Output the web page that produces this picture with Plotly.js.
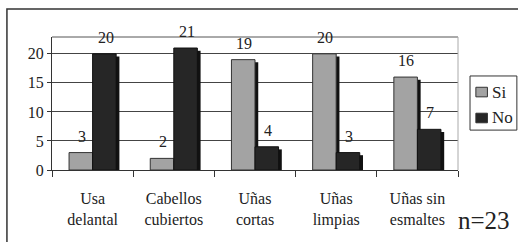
<!DOCTYPE html>
<html><head><meta charset="utf-8">
<script src="https://cdn.plot.ly/plotly-3.0.1.min.js"></script>
<style>body{margin:0;background:#fff}#c{width:518px;height:242px}</style>
</head><body><div id="c"></div>
<script>
var categories = ["Usa<br>delantal", "Cabellos<br>cubiertos", "Uñas<br>cortas", "Uñas<br>limpias", "Uñas sin<br>esmaltes"];
var si = [3, 2, 19, 20, 16];
var no = [20, 21, 4, 3, 7];
var seriesNames = ["Si", "No"];
var seriesColors = ["#a3a3a3", "#262626"];
var yTicks = [0, 5, 10, 15, 20];

var font = "Liberation Serif";
var W = 0.29, SH = 0.04, SD = 0.45;
function shadow(vals, off) {
  return {type: "bar", x: categories, y: vals.map(function(v){return v - SD;}), offset: off + SH, width: W,
    marker: {color: "#111", line: {width: 0}}, showlegend: false, hoverinfo: "skip"};
}
var traces = [
  shadow(si, -W), shadow(no, 0),
  {type: "bar", name: seriesNames[0], x: categories, y: si, offset: -W, width: W, showlegend: false,
   marker: {color: seriesColors[0], line: {color: "#333", width: 1}}},
  {type: "bar", name: seriesNames[1], x: categories, y: no, offset: 0, width: W, showlegend: false,
   marker: {color: seriesColors[1], line: {color: "#111", width: 1}}}
];
var annotations = [];
[si, no].forEach(function(vals, k){
  vals.forEach(function(v, i){
    annotations.push({x: categories[i], y: v, xref: "x", yref: "y", text: String(v), showarrow: false,
      xanchor: "center", yanchor: "bottom", xshift: k === 0 ? -11 : 13, yshift: 6,
      font: {size: 16, family: font, color: "#222"}});
  });
});
annotations.push({xref: "paper", yref: "paper", x: 0.995, y: -0.376, xanchor: "left", yanchor: "middle", text: "n=23", showarrow: false,
  font: {size: 25, family: font, color: "#222"}});

var shapes = [
  {type: "line", xref: "paper", yref: "paper", x0: 0, x1: 1, y0: 1, y1: 1, line: {color: "#555", width: 1}},
  {type: "line", xref: "paper", yref: "paper", x0: 1, x1: 1, y0: 0, y1: 1, line: {color: "#aaa", width: 1}},
  {type: "rect", xref: "paper", yref: "paper", x0: -0.111, x1: 1.3, y0: -0.6, y1: 1.21, line: {color: "#333", width: 1.5}},
  {type: "rect", xref: "paper", yref: "paper", x0: 1.0296, x1: 1.145, y0: 0.30, y1: 0.707, line: {color: "#333", width: 1}, fillcolor: "#fff"}
];
var legY = [0.586, 0.391];
seriesNames.forEach(function(n, k){
  shapes.push({type: "rect", xref: "paper", yref: "paper", x0: 1.044, x1: 1.0725, y0: legY[k] - 0.036, y1: legY[k] + 0.036,
    fillcolor: seriesColors[k], line: {color: "#333", width: 1}});
  annotations.push({xref: "paper", yref: "paper", x: 1.078, y: legY[k], xanchor: "left", yanchor: "middle", text: n,
    showarrow: false, font: {size: 17, family: font, color: "#222"}});
});

var layout = {
  width: 518, height: 242,
  margin: {l: 52, r: 60, t: 37, b: 72, autoexpand: false},
  paper_bgcolor: "#fff", plot_bgcolor: "#fff",
  barmode: "overlay", showlegend: false,
  font: {family: font, color: "#222"},
  xaxis: {type: "category", tickson: "boundaries", ticks: "outside", ticklen: 6, tickcolor: "#333",
    showline: true, linecolor: "#333", linewidth: 1, tickfont: {size: 16, family: font, color: "#222"}, showgrid: false,
    ticklabelstandoff: 14},
  yaxis: {range: [0, 22.9], tickvals: yTicks, showgrid: true, gridcolor: "#444", gridwidth: 1,
    showline: true, linecolor: "#333", ticks: "outside", ticklen: 4, tickcolor: "#333",
    tickfont: {size: 16, family: font, color: "#222"}, zeroline: false},
  shapes: shapes,
  annotations: annotations
};
Plotly.newPlot("c", traces, layout, {displayModeBar: false, staticPlot: true});
</script></body></html>
